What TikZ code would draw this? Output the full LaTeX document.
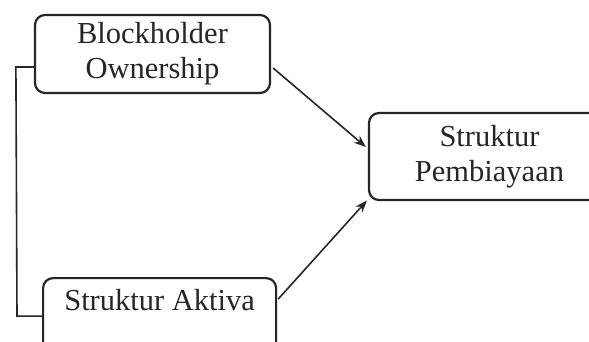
\documentclass[tikz,border=0pt]{standalone}
\usepackage{fontspec}
\setmainfont{Liberation Serif}
\usetikzlibrary{calc,arrows.meta}
\definecolor{ink}{HTML}{262626}
\definecolor{txt}{HTML}{262626}
\tikzset{
  box/.style={draw=ink, line width=2.2pt, rounded corners=10pt, fill=white, inner sep=0pt},
  lbl/.style={text=txt, font=\fontsize{30.5}{35}\selectfont, align=center, inner sep=0pt},
  conn/.style={draw=ink, line width=1.6pt},
  arr/.style={conn, -{Stealth[length=12pt,width=9pt]}}
}
\begin{document}
\begin{tikzpicture}[x=1pt,y=-1pt]
\useasboundingbox (0,0) rectangle (589,342);
\fill[white] (0,0) rectangle (589,342);
\begin{scope}
\clip (0,0) rectangle (589,342);
\node[box, minimum width=235pt, minimum height=78pt] (b1) at (152.5,54) {};
\node[lbl] (t1) at (b1.center) {Blockholder\\Ownership};
\node[box, minimum width=233pt, minimum height=78pt, anchor=north west] (b2) at (42,277) {};
\node[lbl, anchor=base] (t2) at ($(b2.north)+(0,33)$) {Struktur Aktiva};
\node[box, minimum width=241pt, minimum height=87pt] (b3) at (489.5,156.5) {};
\node[lbl] (t3) at ($(b3.center)+(0,0)$) {Struktur\\Pembiayaan};
\coordinate (l1) at ($(b1.west)+(-18,13)$);
\coordinate (l2) at ($(b2.west)+(-25,-1)$);
\draw[conn] ($(b1.west)+(0,13)$) -- (l1) -- (l2) -- ($(b2.west)+(0,-1)$);
\draw[arr] ($(b1.east)+(2,14)$) -- ($(b3.west)+(-2,-9.5)$);
\draw[arr] ($(b2.east)+(1,-18)$) -- ($(b3.south west)+(-1,-0.5)$);
\end{scope}
\end{tikzpicture}
\end{document}
